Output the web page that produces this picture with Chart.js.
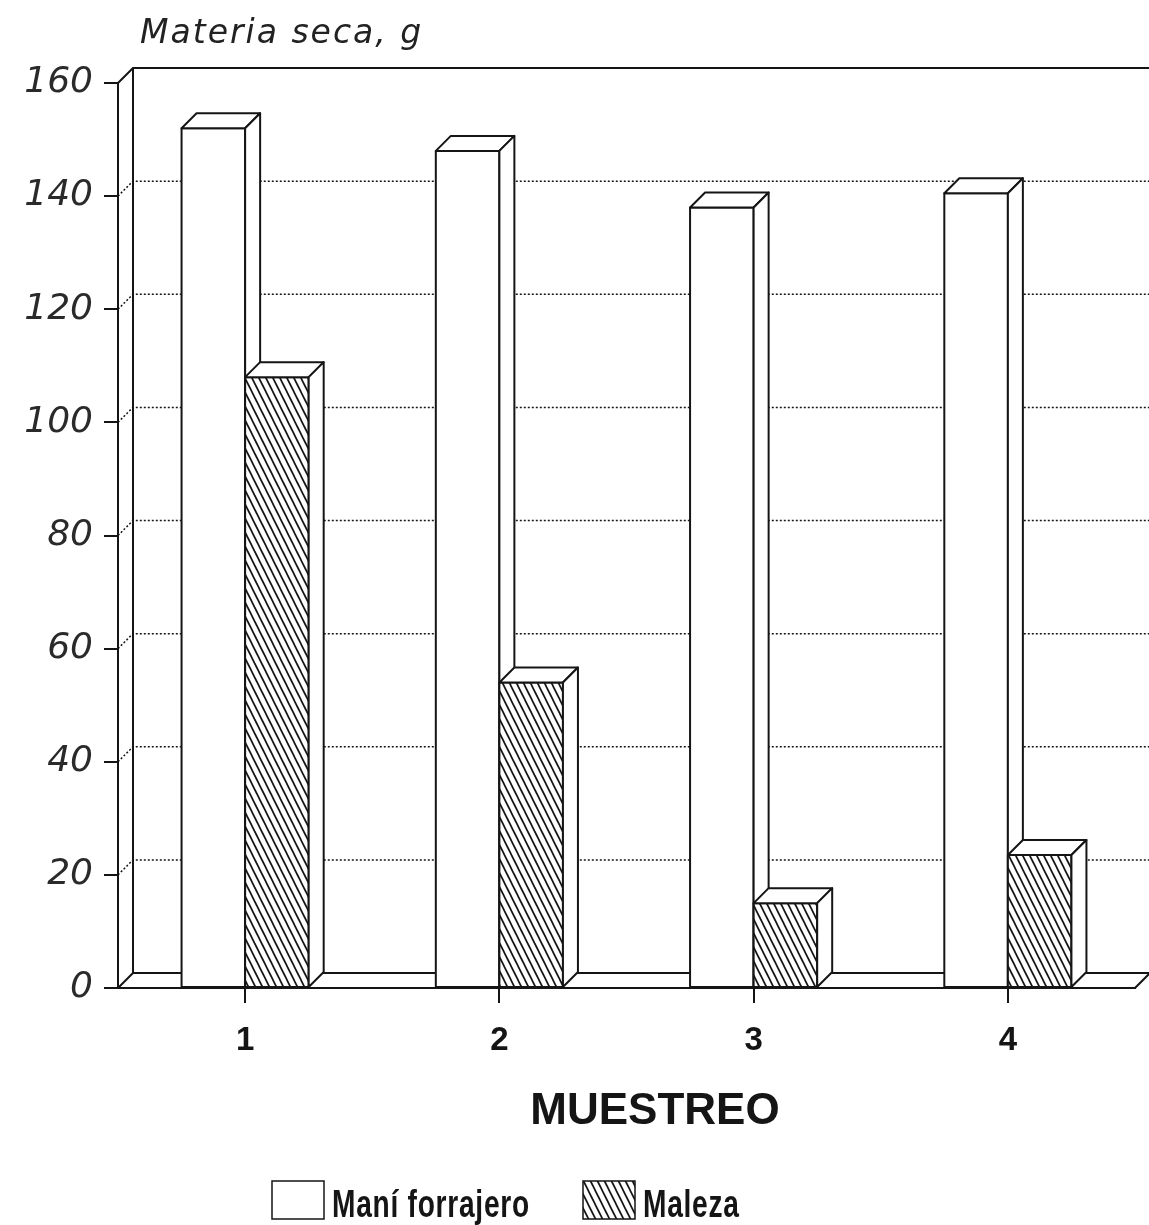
<!DOCTYPE html>
<html>
<head>
<meta charset="utf-8">
<script src="https://cdn.jsdelivr.net/npm/chart.js@4"></script>
<style>
  html, body { margin: 0; padding: 0; background: #fff; }
  #wrap { width: 1149px; height: 1225px; }
</style>
</head>
<body>
<div id="wrap"><canvas id="chart" width="1149" height="1225"></canvas></div>
<script>
const muestreos = ['1', '2', '3', '4'];
const maniForrajero = [152, 148, 138, 140.5];
const maleza = [108, 54, 15, 23.5];
const yTicks = [0, 20, 40, 60, 80, 100, 120, 140, 160];

const DEPTH = 15;
const INK = '#151515';

function hatchPattern() {
    const c = document.createElement('canvas');
    c.width = 7; c.height = 14;
    const g = c.getContext('2d');
    g.fillStyle = '#fff';
    g.fillRect(0, 0, 7, 14);
    g.strokeStyle = INK;
    g.lineWidth = 1.7;
    for (const k of [-1, 0, 1]) {
        g.beginPath();
        g.moveTo(k * 7 - 7, -14);
        g.lineTo(k * 7 + 14, 28);
        g.stroke();
    }
    return g.createPattern(c, 'repeat');
}
const hatch = hatchPattern();

// back wall, floor and dotted grid behind the bars
const backWall = {
    id: 'backWall',
    beforeDatasetsDraw(chart) {
        const ctx = chart.ctx;
        const { left, right, top, bottom } = chart.chartArea;
        const y = chart.scales.y;
        ctx.save();
        ctx.strokeStyle = INK;
        ctx.lineWidth = 2;
        ctx.beginPath();
        ctx.moveTo(left, top); ctx.lineTo(left + DEPTH, top - DEPTH);
        ctx.lineTo(right + DEPTH, top - DEPTH);
        ctx.moveTo(left + DEPTH, top - DEPTH); ctx.lineTo(left + DEPTH, bottom - DEPTH);
        ctx.lineTo(right + DEPTH, bottom - DEPTH);
        ctx.moveTo(left, bottom); ctx.lineTo(left + DEPTH, bottom - DEPTH);
        ctx.moveTo(right, bottom); ctx.lineTo(right + DEPTH, bottom - DEPTH);
        ctx.stroke();

        ctx.lineWidth = 1.5;
        ctx.setLineDash([2, 2]);
        yTicks.slice(1, -1).forEach(v => {
            const py = y.getPixelForValue(v);
            ctx.beginPath();
            ctx.moveTo(left, py);
            ctx.lineTo(left + DEPTH, py - DEPTH);
            ctx.lineTo(right + DEPTH, py - DEPTH);
            ctx.stroke();
        });
        ctx.restore();
    }
};

// redraw each bar as a box: front, top and side, category by category
const boxes = {
    id: 'boxes',
    afterDatasetsDraw(chart) {
        const ctx = chart.ctx;
        const metas = chart.data.datasets.map((d, i) => chart.getDatasetMeta(i));
        ctx.save();
        ctx.strokeStyle = INK;
        ctx.lineWidth = 2;
        ctx.lineJoin = 'round';
        for (let j = 0; j < muestreos.length; j++) {
            metas.forEach((meta, i) => {
                const { x, y, base, width } = meta.data[j].getProps(['x', 'y', 'base', 'width'], true);
                const l = x - width / 2, r = x + width / 2;
                ctx.fillStyle = chart.data.datasets[i].backgroundColor;
                ctx.fillRect(l, y, width, base - y);
                ctx.strokeRect(l, y, width, base - y);
                ctx.fillStyle = '#fff';
                ctx.beginPath();
                ctx.moveTo(l, y); ctx.lineTo(l + DEPTH, y - DEPTH);
                ctx.lineTo(r + DEPTH, y - DEPTH); ctx.lineTo(r, y);
                ctx.closePath(); ctx.fill(); ctx.stroke();
                ctx.beginPath();
                ctx.moveTo(r, y); ctx.lineTo(r + DEPTH, y - DEPTH);
                ctx.lineTo(r + DEPTH, base - DEPTH); ctx.lineTo(r, base);
                ctx.closePath(); ctx.fill(); ctx.stroke();
            });
        }
        ctx.restore();
    }
};

// axis titles and legend
const texts = {
    id: 'texts',
    afterDraw(chart) {
        const ctx = chart.ctx;
        ctx.save();
        ctx.fillStyle = '#222';
        ctx.textBaseline = 'alphabetic';
        ctx.font = 'italic 33px "DejaVu Sans"';
        ctx.letterSpacing = '2px';
        ctx.textAlign = 'left';
        ctx.fillText('Materia seca, g', 140, 43);

        ctx.fillStyle = INK;
        ctx.letterSpacing = '0px';
        ctx.font = 'bold 44px "Liberation Sans"';
        ctx.textAlign = 'center';
        ctx.fillText('MUESTREO', 655, 1124);

        const items = [
            { text: 'Maní forrajero', fill: '#fff', x: 272 },
            { text: 'Maleza', fill: hatch, x: 583 }
        ];
        ctx.font = 'bold 38px "Liberation Sans"';
        ctx.letterSpacing = '1px';
        ctx.textAlign = 'left';
        ctx.lineWidth = 1.5;
        ctx.strokeStyle = INK;
        items.forEach(it => {
            ctx.fillStyle = it.fill;
            ctx.fillRect(it.x, 1181, 52, 38);
            ctx.strokeRect(it.x, 1181, 52, 38);
            ctx.fillStyle = INK;
            ctx.save();
            ctx.translate(it.x + 60, 1217);
            ctx.scale(0.74, 1);
            ctx.fillText(it.text, 0, 0);
            ctx.restore();
        });
        ctx.restore();
    }
};

new Chart(document.getElementById('chart').getContext('2d'), {
    type: 'bar',
    data: {
        labels: muestreos,
        datasets: [{
            label: 'Maní forrajero',
            data: maniForrajero,
            backgroundColor: '#fff',
            borderColor: INK,
            borderWidth: 0
        }, {
            label: 'Maleza',
            data: maleza,
            backgroundColor: hatch,
            borderColor: INK,
            borderWidth: 0
        }]
    },
    plugins: [backWall, boxes, texts],
    options: {
        responsive: false,
        animation: false,
        layout: { padding: { top: 83, right: 14, left: 0, bottom: 0 } },
        datasets: { bar: { categoryPercentage: 0.5, barPercentage: 1 } },
        plugins: {
            legend: { display: false },
            tooltip: { enabled: false }
        },
        scales: {
            x: {
                afterFit: s => { s.height = 237; },
                grid: { offset: false, drawOnChartArea: false, tickLength: 15, color: INK, lineWidth: 2 },
                border: { display: true, color: INK, width: 2 },
                ticks: {
                    padding: 18,
                    color: INK,
                    font: { family: '"Liberation Sans"', size: 33, weight: 'bold' }
                }
            },
            y: {
                min: 0,
                max: 160,
                afterFit: s => { s.width = 118; },
                afterBuildTicks: s => { s.ticks = yTicks.map(v => ({ value: v })); },
                grid: { drawOnChartArea: false, tickLength: 14, color: INK, lineWidth: 2 },
                border: { display: true, color: INK, width: 2 },
                ticks: {
                    padding: 11,
                    color: '#2a2a2a',
                    font: { family: '"DejaVu Sans"', size: 36, style: 'italic', weight: 'normal' }
                }
            }
        }
    }
});
</script>
</body>
</html>
